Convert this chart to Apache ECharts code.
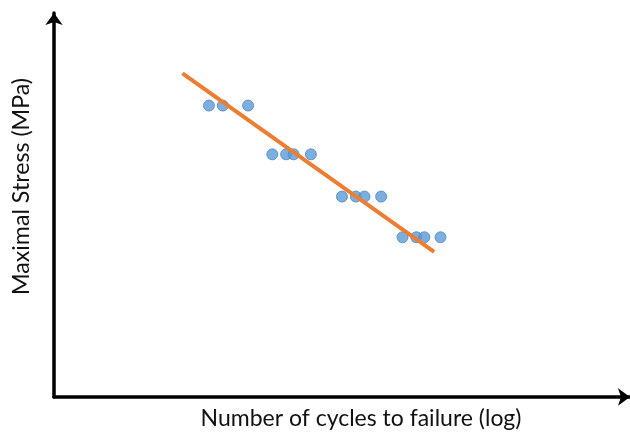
<!DOCTYPE html>
<html>
<head>
<meta charset="utf-8">
<script src="https://cdn.jsdelivr.net/npm/echarts@6/dist/echarts.min.js"></script>
<style>html,body{margin:0;padding:0;background:#fff;}#c{width:630px;height:441px;}</style>
</head>
<body>
<div id="c"></div>
<script>
// Data (arbitrary units: x = log cycles scale, y = stress scale)
const cyclesLog = [26.9, 29.3, 33.7, 37.9, 40.3, 41.6, 44.6, 50.0, 52.4, 53.9, 56.8, 60.5, 62.9, 64.3, 67.1];
const stress    = [75.9, 75.9, 75.9, 63.2, 63.2, 63.2, 63.2, 52.2, 52.2, 52.2, 52.2, 41.6, 41.6, 41.6, 41.6];
const fitX = [22.3, 66.0];
const fitY = [84.3, 37.8];
const xTitle = 'Number of cycles to failure (log)';
const yTitle = 'Maximal Stress (MPa)';

const FONT = 'Lato, "Open Sans", sans-serif';
function fitSize(text, target){
  const ctx = document.createElement('canvas').getContext('2d');
  ctx.font = '100px ' + FONT;
  return 100 * target / ctx.measureText(text).width;
}

const chart = echarts.init(document.getElementById('c'), null, {renderer:'canvas'});
const axisLine = {show:true, symbol:['none','arrow'], symbolSize:[13,12], lineStyle:{color:'#000', width:3.5}};
chart.setOption({
  animation:false,
  grid:{left:54, right:-3, top:13, bottom:44, containLabel:false},
  xAxis:{type:'value', min:0, max:100, axisLine:axisLine, axisTick:{show:false}, axisLabel:{show:false}, splitLine:{show:false}},
  yAxis:{type:'value', min:0, max:100, axisLine:axisLine, axisTick:{show:false}, axisLabel:{show:false}, splitLine:{show:false}},
  series:[
    {type:'line', data:fitX.map((x,i)=>[x,fitY[i]]), symbol:'none', lineStyle:{color:'#ED7D31', width:4}, z:3},
    {type:'scatter', data:cyclesLog.map((x,i)=>[x,stress[i]]), symbolSize:11,
     itemStyle:{color:'#5B9BD5', borderColor:'#4A86C0', borderWidth:1}, z:2}
  ],
  graphic:[
    {type:'text', x:361, y:419, style:{text:xTitle, font: fitSize(xTitle,321).toFixed(2)+'px '+FONT, fill:'#111', textAlign:'center', textVerticalAlign:'middle'}},
    {type:'text', x:22, y:186.5, rotation:Math.PI/2, style:{text:yTitle, font: fitSize(yTitle,217).toFixed(2)+'px '+FONT, fill:'#111', textAlign:'center', textVerticalAlign:'middle'}}
  ]
});
</script>
</body>
</html>
